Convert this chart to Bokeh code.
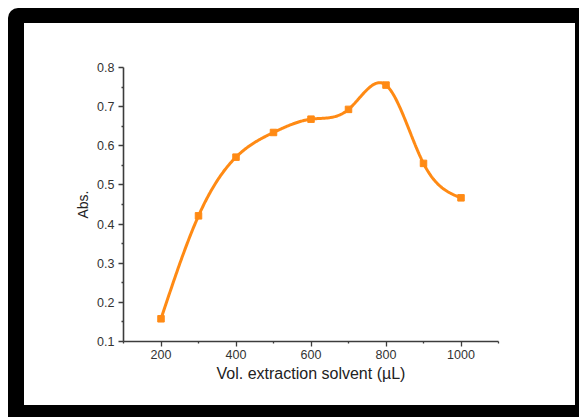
import numpy as np
from bokeh.plotting import figure
from bokeh.layouts import column
from bokeh.models import Range1d, FixedTicker
from bokeh.embed import file_html
from bokeh.resources import INLINE

# Absorbance versus volume of extraction solvent
volume_ul = [200, 300, 400, 500, 600, 700, 800, 900, 1000]
absorbance = [0.158, 0.421, 0.571, 0.634, 0.668, 0.693, 0.755, 0.555, 0.467]

x_major_ticks = [200, 400, 600, 800, 1000]
x_minor_ticks = [100, 300, 500, 700, 900, 1100]
y_major_ticks = [0.1, 0.2, 0.3, 0.4, 0.5, 0.6, 0.7, 0.8]
y_minor_ticks = [0.15, 0.25, 0.35, 0.45, 0.55, 0.65, 0.75]


def natural_spline(x, y, n=400):
    """Smooth connecting curve through the measured points (natural cubic spline)."""
    x = np.asarray(x, float)
    y = np.asarray(y, float)
    k = len(x)
    h = np.diff(x)
    A = np.zeros((k, k))
    r = np.zeros(k)
    A[0, 0] = A[-1, -1] = 1.0
    for i in range(1, k - 1):
        A[i, i - 1] = h[i - 1]
        A[i, i] = 2 * (h[i - 1] + h[i])
        A[i, i + 1] = h[i]
        r[i] = 3 * ((y[i + 1] - y[i]) / h[i] - (y[i] - y[i - 1]) / h[i - 1])
    c = np.linalg.solve(A, r)
    b = (y[1:] - y[:-1]) / h - h * (2 * c[:-1] + c[1:]) / 3
    d = (c[1:] - c[:-1]) / (3 * h)
    xs = np.linspace(x[0], x[-1], n)
    idx = np.clip(np.searchsorted(x, xs, side="right") - 1, 0, k - 2)
    t = xs - x[idx]
    ys = y[idx] + b[idx] * t + c[idx] * t ** 2 + d[idx] * t ** 3
    return xs, ys


curve_x, curve_y = natural_spline(volume_ul, absorbance)

ORANGE = "#FF8A14"
AXIS = "#3c3c3c"
FONT = "Liberation Sans"

p = figure(
    width=551, height=382,
    x_range=Range1d(100, 1100), y_range=Range1d(0.1, 0.8),
    output_backend="svg", toolbar_location=None,
    min_border_left=99, min_border_right=77,
    min_border_top=44, min_border_bottom=64,
    outline_line_color=None,
    background_fill_color=None,
    border_fill_color="white",
    styles={"background-color": "white"},
)
p.grid.visible = False

p.line(curve_x, curve_y, line_color=ORANGE, line_width=3)
p.scatter(volume_ul, absorbance, marker="square", size=6.5,
          fill_color=ORANGE, line_color=ORANGE)

p.xaxis.ticker = FixedTicker(ticks=x_major_ticks, minor_ticks=x_minor_ticks)
p.yaxis.ticker = FixedTicker(ticks=y_major_ticks, minor_ticks=y_minor_ticks)
p.xaxis.axis_label = "Vol. extraction solvent (µL)"
p.yaxis.axis_label = "Abs."

for ax in (p.xaxis, p.yaxis):
    ax.axis_line_color = AXIS
    ax.axis_line_width = 1.6
    ax.major_tick_line_color = AXIS
    ax.major_tick_line_width = 1.3
    ax.minor_tick_line_color = AXIS
    ax.minor_tick_line_width = 1.3
    ax.major_tick_in = 0
    ax.major_tick_out = 5
    ax.minor_tick_in = 0
    ax.minor_tick_out = 2
    ax.major_label_text_font = FONT
    ax.major_label_text_font_size = "12.5px"
    ax.major_label_text_color = "#333333"
    ax.axis_label_text_font = FONT
    ax.axis_label_text_font_style = "normal"
    ax.axis_label_text_color = "#222222"

p.xaxis.axis_label_text_font_size = "16px"
p.yaxis.axis_label_text_font_size = "14px"
p.xaxis.major_label_standoff = 3
p.xaxis.axis_label_standoff = 3
p.yaxis.major_label_standoff = 4
p.yaxis.axis_label_standoff = 3

# Black mat around the white chart panel
page = column(
    p,
    styles={
        "margin": "8px 0 0 8px",
        "padding": "15px 4px 12px 16px",
        "background-color": "black",
        "border-top-left-radius": "10px",
    },
)

open("out.html", "w").write(file_html(page, INLINE))
